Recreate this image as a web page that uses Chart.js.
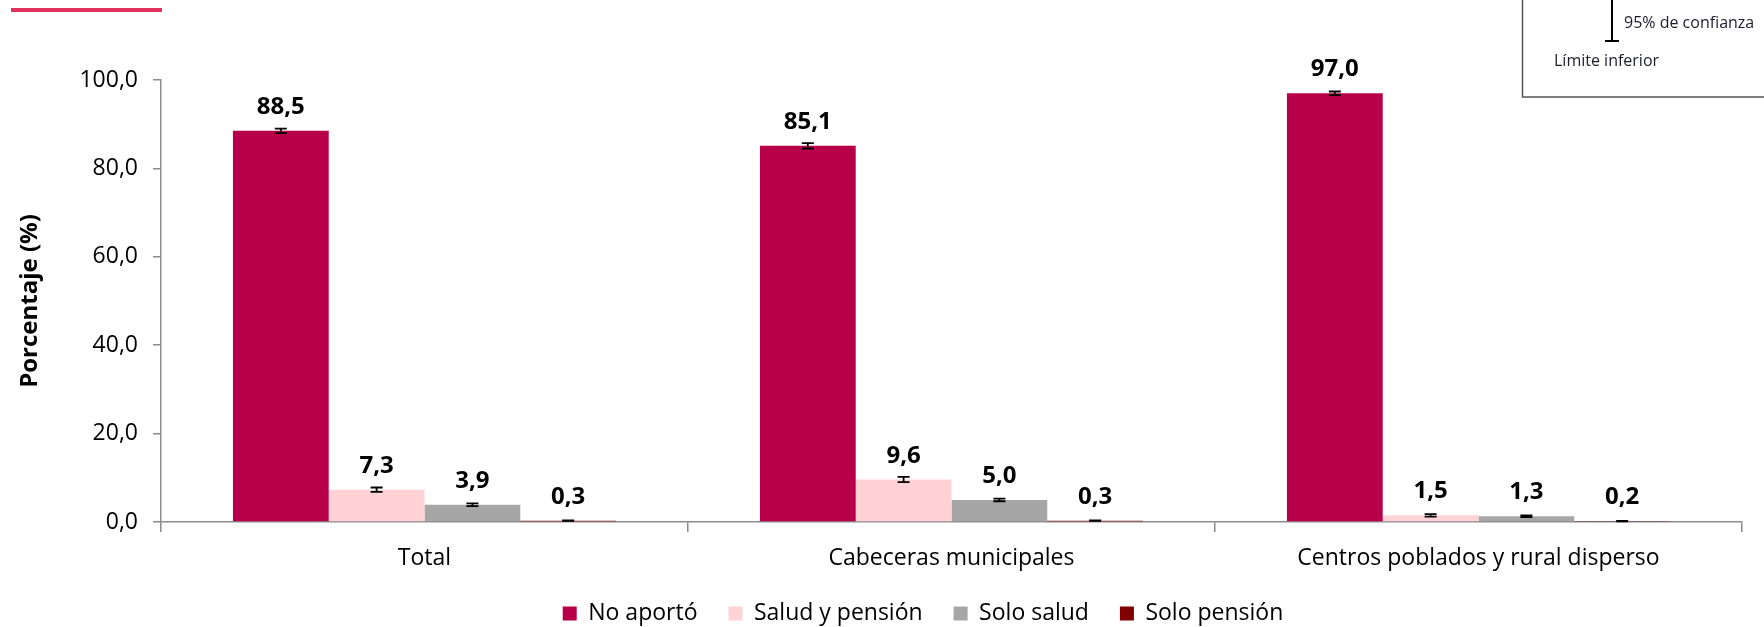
<!DOCTYPE html>
<html>
<head>
<meta charset="utf-8">
<script src="https://cdn.jsdelivr.net/npm/chart.js@4.4.1/dist/chart.umd.min.js"></script>
<style>
  html, body { margin: 0; padding: 0; background: #ffffff; }
  #wrap { position: relative; width: 1764px; height: 627px; }
</style>
</head>
<body>
<div id="wrap"><canvas id="c" width="1764" height="627"></canvas></div>
<script>
const categories = ['Total', 'Cabeceras municipales', 'Centros poblados y rural disperso'];
const seriesNames = ['No aportó', 'Salud y pensión', 'Solo salud', 'Solo pensión'];
const noAporto = [88.5, 85.1, 97.0];
const saludPension = [7.3, 9.6, 1.5];
const soloSalud = [3.9, 5.0, 1.3];
const soloPension = [0.3, 0.3, 0.2];
const lowNoAporto = [88.0, 84.5, 96.6];
const highNoAporto = [89.0, 85.7, 97.4];
const lowSaludPension = [6.8, 9.0, 1.2];
const highSaludPension = [7.8, 10.2, 1.8];
const lowSoloSalud = [3.6, 4.7, 1.1];
const highSoloSalud = [4.2, 5.3, 1.5];
const lowSoloPension = [0.25, 0.25, 0.15];
const highSoloPension = [0.35, 0.35, 0.25];
const yTicks = [0, 20, 40, 60, 80, 100];
const colors = ['#B8004A', '#FFD3D6', '#A6A6A6', '#800000'];

const FONT = '"Open Sans", "DejaVu Sans", sans-serif';
const fmt = v => v.toFixed(1).replace('.', ',');

const seriesValues = [noAporto, saludPension, soloSalud, soloPension];
const seriesLow = [lowNoAporto, lowSaludPension, lowSoloSalud, lowSoloPension];
const seriesHigh = [highNoAporto, highSaludPension, highSoloSalud, highSoloPension];

const datasets = seriesNames.map((name, i) => ({
  label: name,
  data: seriesValues[i],
  low: seriesLow[i],
  high: seriesHigh[i],
  backgroundColor: colors[i],
  borderWidth: 0,
  categoryPercentage: 0.727,
  barPercentage: 1.0
}));

const LEGEND_SHIFT = 52;

const decorPlugin = {
  id: 'decor',
  afterLayout(chart) {
    if (chart.legend) {
      chart.legend.left += LEGEND_SHIFT;
      chart.legend.right += LEGEND_SHIFT;
    }
  },
  beforeDraw(chart) {
    const ctx = chart.ctx;
    ctx.save();
    ctx.fillStyle = '#E2305F';
    ctx.fillRect(11, 8, 151, 4);
    // confidence legend box
    ctx.strokeStyle = '#555555';
    ctx.lineWidth = 1.5;
    ctx.beginPath();
    ctx.moveTo(1522.5, -2);
    ctx.lineTo(1522.5, 97);
    ctx.lineTo(1766, 97);
    ctx.stroke();
    ctx.strokeStyle = '#000000';
    ctx.lineWidth = 2;
    ctx.beginPath();
    ctx.moveTo(1612, 0);
    ctx.lineTo(1612, 41);
    ctx.moveTo(1605, 41);
    ctx.lineTo(1619, 41);
    ctx.stroke();
    ctx.fillStyle = '#1c1c2c';
    ctx.font = '16px ' + FONT;
    ctx.textBaseline = 'middle';
    ctx.textAlign = 'left';
    ctx.fillText('95% de confianza', 1624, 23);
    ctx.fillText('Límite inferior', 1554, 61);
    ctx.restore();
  },
  afterDatasetsDraw(chart) {
    const ctx = chart.ctx;
    const y = chart.scales.y;
    ctx.save();
    chart.data.datasets.forEach((ds, di) => {
      const meta = chart.getDatasetMeta(di);
      meta.data.forEach((bar, i) => {
        const yl = y.getPixelForValue(ds.low[i]);
        const yh = y.getPixelForValue(ds.high[i]);
        ctx.strokeStyle = '#000000';
        ctx.lineWidth = 1.8;
        ctx.beginPath();
        ctx.moveTo(bar.x, yl);
        ctx.lineTo(bar.x, yh);
        ctx.moveTo(bar.x - 6, yl);
        ctx.lineTo(bar.x + 6, yl);
        ctx.moveTo(bar.x - 6, yh);
        ctx.lineTo(bar.x + 6, yh);
        ctx.stroke();
        ctx.fillStyle = '#000000';
        ctx.font = 'bold 24px ' + FONT;
        ctx.textAlign = 'center';
        ctx.textBaseline = 'alphabetic';
        ctx.fillText(fmt(ds.data[i]), bar.x, bar.y - 17);
      });
    });
    ctx.restore();
  }
};

new Chart(document.getElementById('c'), {
  type: 'bar',
  data: { labels: categories, datasets },
  options: {
    responsive: false,
    animation: false,
    layout: { padding: { top: 80, right: 22, left: 0, bottom: 0 } },
    plugins: {
      tooltip: { enabled: false },
      legend: {
        position: 'bottom',
        maxHeight: 56,
        labels: {
          font: { family: FONT, size: 23 },
          color: '#000000',
          boxWidth: 14,
          boxHeight: 14,
          padding: 31
        }
      }
    },
    scales: {
      x: {
        grid: {
          offset: true,
          drawOnChartArea: false,
          drawTicks: true,
          tickLength: 10,
          color: '#8c8c8c',
          lineWidth: 1.5
        },
        border: { color: '#8c8c8c', width: 1.5 },
        ticks: {
          font: { family: FONT, size: 23 },
          color: '#000000',
          padding: 13,
          maxRotation: 0
        },
        afterFit(scale) { scale.height = 49; }
      },
      y: {
        min: 0,
        max: 100,
        afterBuildTicks(scale) { scale.ticks = yTicks.map(v => ({ value: v })); },
        grid: {
          drawOnChartArea: false,
          drawTicks: true,
          tickLength: 8,
          color: '#8c8c8c',
          lineWidth: 1.5
        },
        border: { color: '#8c8c8c', width: 1.5 },
        ticks: {
          font: { family: FONT, size: 23 },
          color: '#000000',
          padding: 15,
          callback: v => fmt(v)
        },
        title: {
          display: true,
          text: 'Porcentaje (%)',
          font: { family: FONT, size: 24, weight: 'bold' },
          color: '#000000',
          padding: { top: 16, bottom: 0 }
        },
        afterFit(scale) { scale.width = 161; }
      }
    }
  },
  plugins: [decorPlugin]
});
</script>
</body>
</html>
